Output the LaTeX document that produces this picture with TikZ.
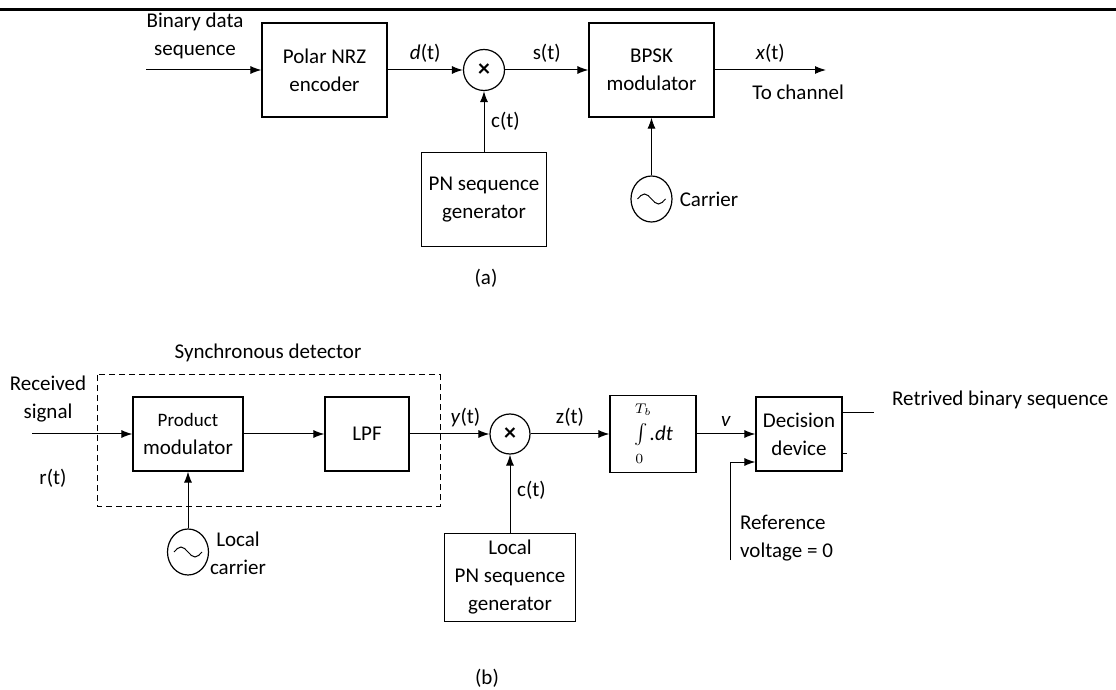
\documentclass[tikz,border=0pt]{standalone}
\usepackage{fontspec}
\setmainfont{Carlito}
\usetikzlibrary{arrows.meta, shapes.geometric}

\newcommand{\oscwave}[1]{\draw ([xshift=-7pt]#1.center) sin ++(3.5pt,2.5pt) cos ++(3.5pt,-2.5pt) sin ++(3.5pt,-2.5pt) cos ++(3.5pt,2.5pt);}

\begin{document}
\begin{tikzpicture}[x=0.5pt, y=-0.5pt, >={Latex[length=5.5pt,width=4pt]}, line width=0.5pt, font=\fontsize{10.5}{14}\selectfont,
  block/.style={rectangle, draw, line width=0.6pt, minimum width=62.5pt, minimum height=47pt, align=center},
  smallblock/.style={block, minimum width=43pt, minimum height=37pt},
  mixer/.style={circle, draw, line width=0.6pt, minimum size=20.5pt, inner sep=0pt, font=\fontsize{12}{14}\selectfont\bfseries},
  osc/.style={ellipse, draw, line width=0.6pt, minimum width=20.5pt, minimum height=23pt, inner sep=0pt}]
  \useasboundingbox (0,0) rectangle (1116,690);
  \draw[line width=1.5pt] (0,10) -- (1116,10);

  % (a) transmitter
  \node[block] (enc) at (324.5,70) {Polar NRZ\\encoder};
  \node[coordinate, left of=enc, node distance=89.25pt] (input) {};
  \node[mixer, right of=enc, node distance=79.75pt] (mix1) {×};
  \node[block, right of=mix1, node distance=83.75pt] (bpsk) {BPSK\\modulator};
  \node[block, below of=mix1, node distance=64.75pt] (pn) {PN sequence\\generator};
  \node[osc, below of=bpsk, node distance=64.5pt] (osc1) {};
  \node[coordinate, right of=bpsk, node distance=87.25pt] (output) {};
  \oscwave{osc1}

  \node[align=center] at (195,36) {Binary data\\sequence};
  \node[right] at (osc1.east) {Carrier};
  \node at (486,278) {(a)};

  \draw[->] (input) -- (enc);
  \draw[->] (enc) -- node[above] {\textit{d}(t)} (mix1);
  \draw[->] (mix1) -- node[above] {s(t)} (bpsk);
  \draw[->] (pn) -- node[right] {c(t)} (mix1);
  \draw[->] (osc1) -- (bpsk);
  \draw[->] (bpsk) -- node[above] {\textit{x}(t)} node[near end, below=4pt] {To channel} (output);

  % (b) receiver
  \node[smallblock, minimum width=55pt] (prod) at (188,434) {\fontsize{9.5}{13}\selectfont Product\\modulator};
  \node[coordinate, left of=prod, node distance=78pt] (in2) {};
  \node[smallblock, minimum width=42pt, right of=prod, node distance=89.5pt] (lpf) {LPF};
  \node[mixer, minimum size=20pt, right of=lpf, node distance=71.5pt] (mix2) {×};
  \node[smallblock, right of=mix2, node distance=71.5pt] (intg) {$\int\limits^{\raisebox{3pt}{$\scriptstyle T_b$}}_{\raisebox{-3pt}{$\scriptstyle 0$}}$\textit{.dt}};
  \node[smallblock, right of=intg, node distance=73pt] (dec) {Decision\\device};
  \node[block, minimum width=65.5pt, minimum height=43.5pt, below of=mix2, node distance=71.75pt] (lpn) {Local\\PN sequence\\generator};
  \node[osc, below of=prod, node distance=59pt] (osc2) {};
  \oscwave{osc2}
  \coordinate (out2) at (874,413);
  \coordinate (ref) at (730,560);

  \draw[dashed, dash pattern=on 3pt off 2pt] (97,375) rectangle (440,506);
  \node at (268,353) {Synchronous detector};
  \node[align=center] at (48,399) {Received\\signal};
  \node at (53,478) {r(t)};
  \node[align=center] at (238,553) {Local\\carrier};
  \node[align=left, anchor=west] at (733,538) {Reference\\voltage = 0};
  \node[anchor=west] at (885,400) {Retrived binary sequence};
  \node at (487,678) {(b)};

  \draw[->] (in2) -- (prod);
  \draw[->] (prod) -- (lpf);
  \draw[->] (osc2) -- (prod);
  \draw[->] (lpf) -- node[above, pos=0.7] {\textit{y}(t)} (mix2);
  \draw[->] (lpn) -- node[right, pos=0.55] {c(t)} (mix2);
  \draw[->] (mix2) -- node[above] {z(t)} (intg);
  \draw[->] (intg) -- node[above] {\textit{v}} (dec);
  \draw[->] (ref) |- ([yshift=-14pt]dec.west);
  \draw (dec.east |- out2) -- (out2);
  \draw ([yshift=-9.5pt]dec.east) -- ++(2pt,0);

\end{tikzpicture}
\end{document}
